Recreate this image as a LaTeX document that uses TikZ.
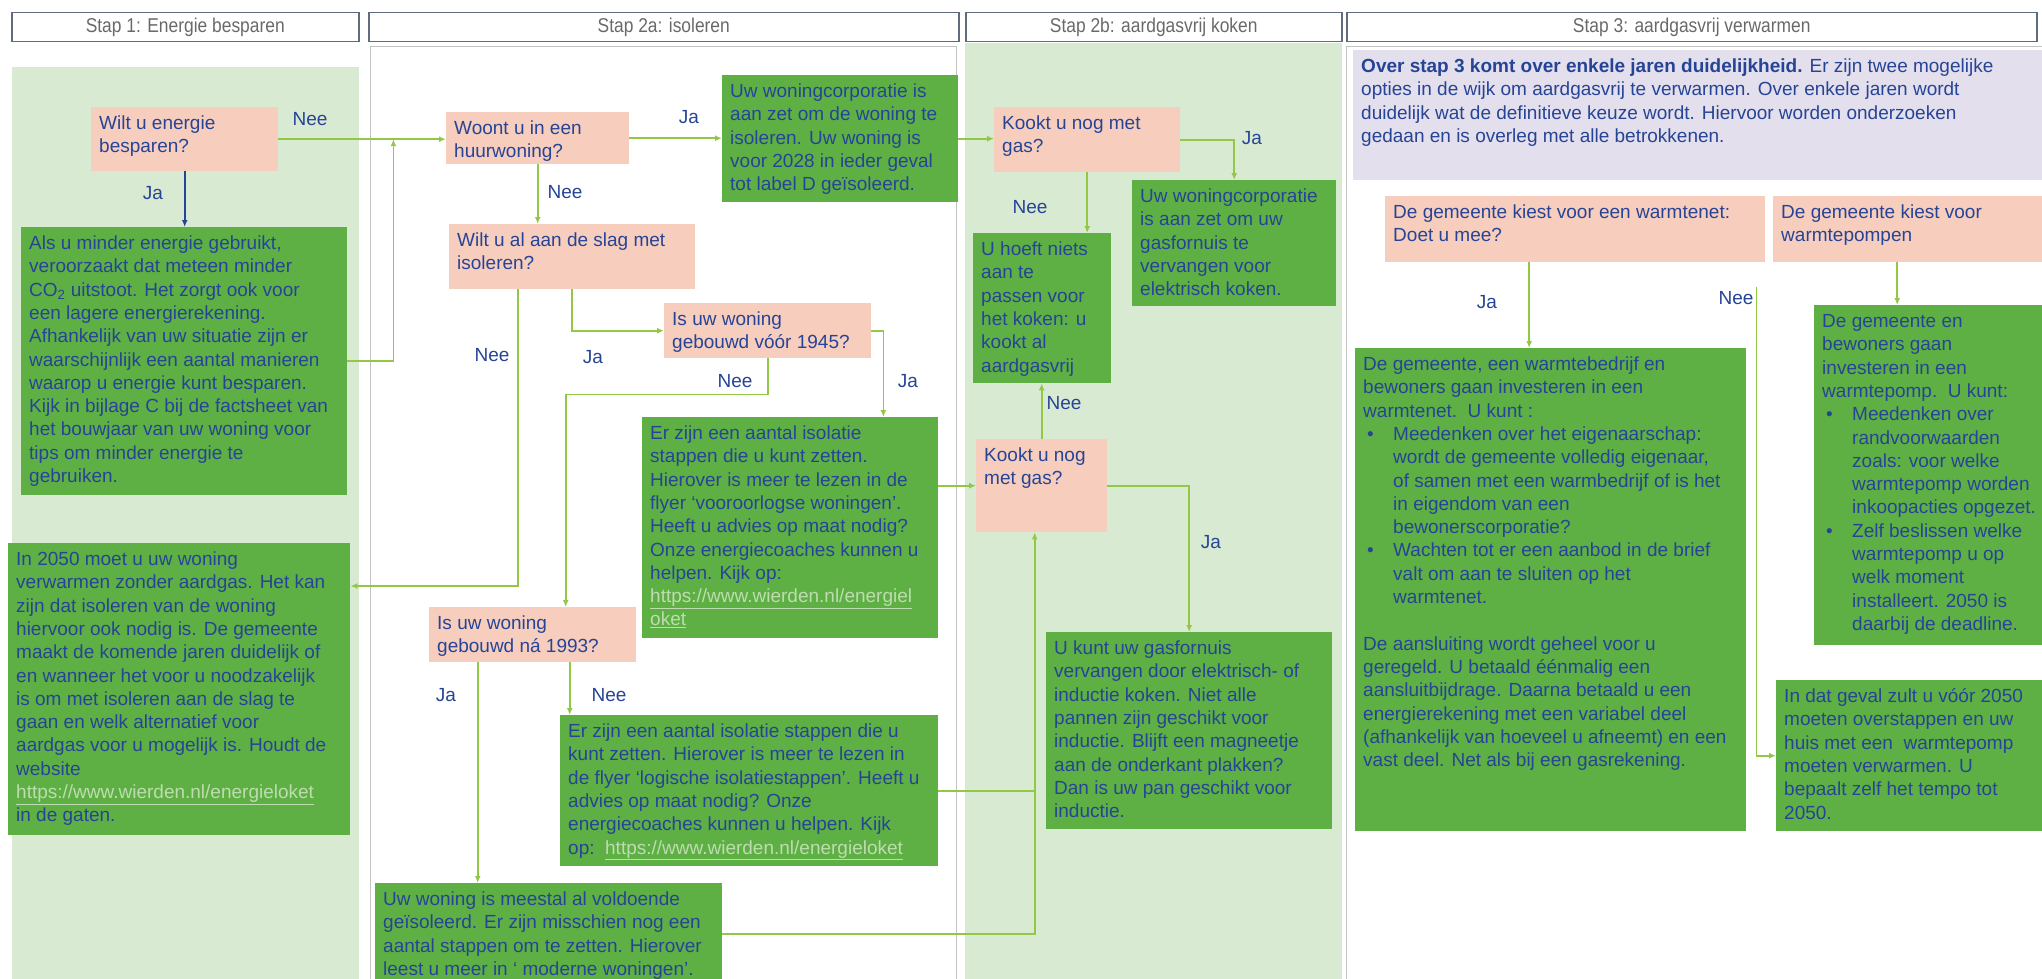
\documentclass[tikz,border=0pt]{standalone}
\usepackage{fontspec}
\setmainfont{Liberation Sans}
\newfontfamily\kopfont{Liberation Sans}[FakeStretch=0.87]
\usetikzlibrary{arrows.meta}

\definecolor{groen}{RGB}{94,176,69}
\definecolor{lichtgroen}{RGB}{217,234,211}
\definecolor{roze}{RGB}{247,205,189}
\definecolor{paars}{RGB}{228,223,236}
\definecolor{tekstblauw}{RGB}{38,68,150}
\definecolor{lijngroen}{RGB}{146,200,70}
\definecolor{linkkleur}{RGB}{190,220,175}
\definecolor{kopgrijs}{RGB}{105,105,105}
\definecolor{kaderblauw}{RGB}{95,108,125}
\definecolor{randgrijs}{RGB}{195,195,195}

% text block of fixed size, text at the top
\newcommand{\vakje}[3]{\parbox[t][#2][t]{#1}{\raggedright\strut #3}}
\newcommand{\weblink}[1]{\textcolor{linkkleur}{\underline{#1}}}
\newcommand{\bol}{\makebox[30pt][l]{\hspace{4pt}•}}
\newcommand{\insp}{\hspace*{30pt}}

\begin{document}
\begin{tikzpicture}[x=1pt,y=-1pt,
  tekst/.style={font=\fontsize{19pt}{23.3pt}\selectfont, text=tekstblauw},
  vak/.style={tekst, anchor=north west, inner xsep=8pt, inner ysep=6pt},
  vraag/.style={vak, fill=roze},
  antwoord/.style={vak, fill=groen},
  info/.style={vak, fill=paars},
  lbl/.style={tekst, inner sep=0pt},
  kop/.style={draw=kaderblauw, line width=1.5pt, anchor=north west, minimum height=29pt,
    font=\kopfont\fontsize{20pt}{22pt}\selectfont, text=kopgrijs},
  lijn/.style={draw=lijngroen, line width=1.8pt},
  pijl/.style={lijn, -{Latex[length=7pt,width=6pt]}},
  blauwpijl/.style={draw=tekstblauw, line width=1.8pt, -{Latex[length=7pt,width=6pt]}}]
\useasboundingbox (0,0) rectangle (2042,979);
\clip (0,0) rectangle (2042,979);

% Draw the columns
\fill[lichtgroen] (12,67) rectangle (359,990);
\draw[randgrijs, line width=1pt] (370,990) -- (370,47) -- (956,47) -- (956,990);
\fill[lichtgroen] (965,43) rectangle (1342,990);
\draw[randgrijs, line width=1pt] (1346,990) -- (1346,47) -- (2050,47);

% Draw the headers
\foreach \a/\b/\kopje [count=\i] in {11/358/{Stap 1: Energie besparen}, 368/958/{Stap 2a: isoleren},
  965/1341/{Stap 2b: aardgasvrij koken}, 1346/2036/{Stap 3: aardgasvrij verwarmen}}
{
\pgfmathsetmacro{\breedte}{\b-\a}
\node[kop, minimum width=\breedte pt] (kop\i) at (\a,12) {\kopje};
}

% Stap 1
\node[vraag] (p1) at (91,107) {\vakje{171pt}{52pt}{Wilt u energie\\besparen?}};
\node[antwoord] (als) at (21,227) {\vakje{310pt}{256pt}{Als u minder energie gebruikt,\\
veroorzaakt dat meteen minder\\
CO\textsubscript{2} uitstoot. Het zorgt ook voor\\
een lagere energierekening.\\
Afhankelijk van uw situatie zijn er\\
waarschijnlijk een aantal manieren\\
waarop u energie kunt besparen.\\
Kijk in bijlage C bij de factsheet van\\
het bouwjaar van uw woning voor\\
tips om minder energie te\\
gebruiken.}};
\node[antwoord] (in2050) at (8,543) {\vakje{326pt}{280pt}{In 2050 moet u uw woning\\
verwarmen zonder aardgas. Het kan\\
zijn dat isoleren van de woning\\
hiervoor ook nodig is. De gemeente\\
maakt de komende jaren duidelijk of\\
en wanneer het voor u noodzakelijk\\
is om met isoleren aan de slag te\\
gaan en welk alternatief voor\\
aardgas voor u mogelijk is. Houdt de\\
website\\
\weblink{https://www.wierden.nl/energieloket}\\
in de gaten.}};

% Stap 2a
\node[vraag] (woont) at (446,112) {\vakje{167pt}{40pt}{Woont u in een\\huurwoning?}};
\node[vraag] (wiltal) at (449,224) {\vakje{230pt}{53pt}{Wilt u al aan de slag met\\isoleren?}};
\node[vraag] (b1945) at (664,303) {\vakje{191pt}{43pt}{Is uw woning\\gebouwd vóór 1945?}};
\node[vraag] (b1993) at (429,607) {\vakje{191pt}{43pt}{Is uw woning\\gebouwd ná 1993?}};
\node[antwoord] (corp1) at (722,75) {\vakje{220pt}{115pt}{Uw woningcorporatie is\\
aan zet om de woning te\\
isoleren. Uw woning is\\
voor 2028 in ieder geval\\
tot label D geïsoleerd.}};
\node[antwoord] (er1) at (642,417) {\vakje{280pt}{209pt}{Er zijn een aantal isolatie\\
stappen die u kunt zetten.\\
Hierover is meer te lezen in de\\
flyer ‘vooroorlogse woningen’.\\
Heeft u advies op maat nodig?\\
Onze energiecoaches kunnen u\\
helpen. Kijk op:\\
\weblink{https://www.wierden.nl/energiel}\\
\weblink{oket}}};
\node[antwoord] (er2) at (560,715) {\vakje{362pt}{139pt}{Er zijn een aantal isolatie stappen die u\\
kunt zetten. Hierover is meer te lezen in\\
de flyer ‘logische isolatiestappen’. Heeft u\\
advies op maat nodig? Onze\\
energiecoaches kunnen u helpen. Kijk\\
op:\ \ \weblink{https://www.wierden.nl/energieloket}}};
\node[antwoord] (uwm) at (375,883) {\vakje{331pt}{90pt}{Uw woning is meestal al voldoende\\
geïsoleerd. Er zijn misschien nog een\\
aantal stappen om te zetten. Hierover\\
leest u meer in ‘ moderne woningen’.}};

% Stap 2b
\node[vraag] (kookt1) at (994,107) {\vakje{170pt}{53pt}{Kookt u nog met\\gas?}};
\node[antwoord] (corp2) at (1132,180) {\vakje{188pt}{114pt}{Uw woningcorporatie\\
is aan zet om uw\\
gasfornuis te\\
vervangen voor\\
elektrisch koken.}};
\node[antwoord] (uhoeft) at (973,233) {\vakje{122pt}{138pt}{U hoeft niets\\
aan te\\
passen voor\\
het koken: u\\
kookt al\\
aardgasvrij}};
\node[vraag] (kookt2) at (976,439) {\vakje{115pt}{81pt}{Kookt u nog\\met gas?}};
\node[antwoord] (ukunt) at (1046,632) {\vakje{270pt}{185pt}{U kunt uw gasfornuis\\
vervangen door elektrisch- of\\
inductie koken. Niet alle\\
pannen zijn geschikt voor\\
inductie. Blijft een magneetje\\
aan de onderkant plakken?\\
Dan is uw pan geschikt voor\\
inductie.}};

% Stap 3
\node[info] (paars) at (1353,50) {\vakje{684pt}{118pt}{\textbf{Over stap 3 komt over enkele jaren duidelijkheid.} Er zijn twee mogelijke\\
opties in de wijk om aardgasvrij te verwarmen. Over enkele jaren wordt\\
duidelijk wat de definitieve keuze wordt. Hiervoor worden onderzoeken\\
gedaan en is overleg met alle betrokkenen.}};
\node[vraag] (wn) at (1385,196) {\vakje{364pt}{54pt}{De gemeente kiest voor een warmtenet:\\Doet u mee?}};
\node[vraag] (wp) at (1773,196) {\vakje{264pt}{54pt}{De gemeente kiest voor\\warmtepompen}};
\node[antwoord] (gwn) at (1355,348) {\vakje{375pt}{471pt}{De gemeente, een warmtebedrijf en\\
bewoners gaan investeren in een\\
warmtenet.\ \ U kunt :\\
\bol Meedenken over het eigenaarschap:\\
\insp wordt de gemeente volledig eigenaar,\\
\insp of samen met een warmbedrijf of is het\\
\insp in eigendom van een\\
\insp bewonerscorporatie?\\
\bol Wachten tot er een aanbod in de brief\\
\insp valt om aan te sluiten op het\\
\insp warmtenet.\\[23.3pt]
De aansluiting wordt geheel voor u\\
geregeld. U betaald éénmalig een\\
aansluitbijdrage. Daarna betaald u een\\
energierekening met een variabel deel\\
(afhankelijk van hoeveel u afneemt) en een\\
vast deel. Net als bij een gasrekening.}};
\node[antwoord] (gwp) at (1814,305) {\vakje{224pt}{328pt}{De gemeente en\\
bewoners gaan\\
investeren in een\\
warmtepomp.\ \ U kunt:\\
\bol Meedenken over\\
\insp randvoorwaarden\\
\insp zoals: voor welke\\
\insp warmtepomp worden\\
\insp inkoopacties opgezet.\\
\bol Zelf beslissen welke\\
\insp warmtepomp u op\\
\insp welk moment\\
\insp installeert. 2050 is\\
\insp daarbij de deadline.}};
\node[antwoord] (indat) at (1776,680) {\vakje{264pt}{139pt}{In dat geval zult u vóór 2050\\
moeten overstappen en uw\\
huis met een\ \ warmtepomp\\
moeten verwarmen. U\\
bepaalt zelf het tempo tot\\
2050.}};

% Draw the connectors
\draw[blauwpijl] (p1.south) -- (p1.south |- als.north);
\draw[pijl] (p1.east) -- (p1.east -| woont.west);
\draw[pijl] (als.east) -| ([xshift=115pt]p1.east);
\draw[pijl] (woont.east) -- (woont.east -| corp1.west);
\draw[pijl] (woont.south) -- (woont.south |- wiltal.north);
\draw[pijl] ([xshift=-54pt]wiltal.south) |- ([yshift=-43pt]in2050.north east);
\draw[pijl] (wiltal.south) |- (b1945.west);
\draw[pijl] (b1945.east) -| ([xshift=-55pt]er1.north east);
\draw[pijl] (b1945.south) -- ++(0,36) -| ([xshift=33pt]b1993.north);
\draw[pijl] ([xshift=-55pt]b1993.south) -- ([xshift=-55pt]b1993.south |- uwm.north);
\draw[pijl] ([xshift=37pt]b1993.south) -- ([xshift=37pt]b1993.south |- er2.north);
\draw[pijl] (corp1.east) -- (corp1.east -| kookt1.west);
\draw[pijl] (er1.east |- kookt2.west) -- (kookt2.west);
\draw[lijn] (er2.east) -- ([xshift=-7pt]kookt2.south |- er2.east);
\draw[pijl] (uwm.east) -| ([xshift=-7pt]kookt2.south);
\draw[pijl] (kookt1.east) -| (corp2.north);
\draw[pijl] (kookt1.south) -- (kookt1.south |- uhoeft.north);
\draw[pijl] (kookt2.north) -- (kookt2.north |- uhoeft.south);
\draw[pijl] (kookt2.east) -| (ukunt.north);
\draw[pijl] ([xshift=-46pt]wn.south) -- ([xshift=-46pt]wn.south |- gwn.north);
\draw[pijl] ([xshift=-9pt,yshift=-25pt]wn.south east) |- (indat.west);
\draw[pijl] ([xshift=-16pt]wp.south) -- ([xshift=-16pt]wp.south |- gwp.north);

% Draw the Ja/Nee labels
\foreach \x/\y/\woord [count=\i] in {310/119/Nee, 153/193/Ja, 689/117/Ja, 565/192/Nee,
  492/355/Nee, 593/357/Ja, 735/381/Nee, 908/381/Ja, 446/695/Ja, 609/695/Nee,
  1252/138/Ja, 1030/207/Nee, 1064/403/Nee, 1211/542/Ja, 1487/302/Ja, 1736/298/Nee}
{
\node[lbl] (lbl\i) at (\x,\y) {\woord};
}
\end{tikzpicture}
\end{document}
